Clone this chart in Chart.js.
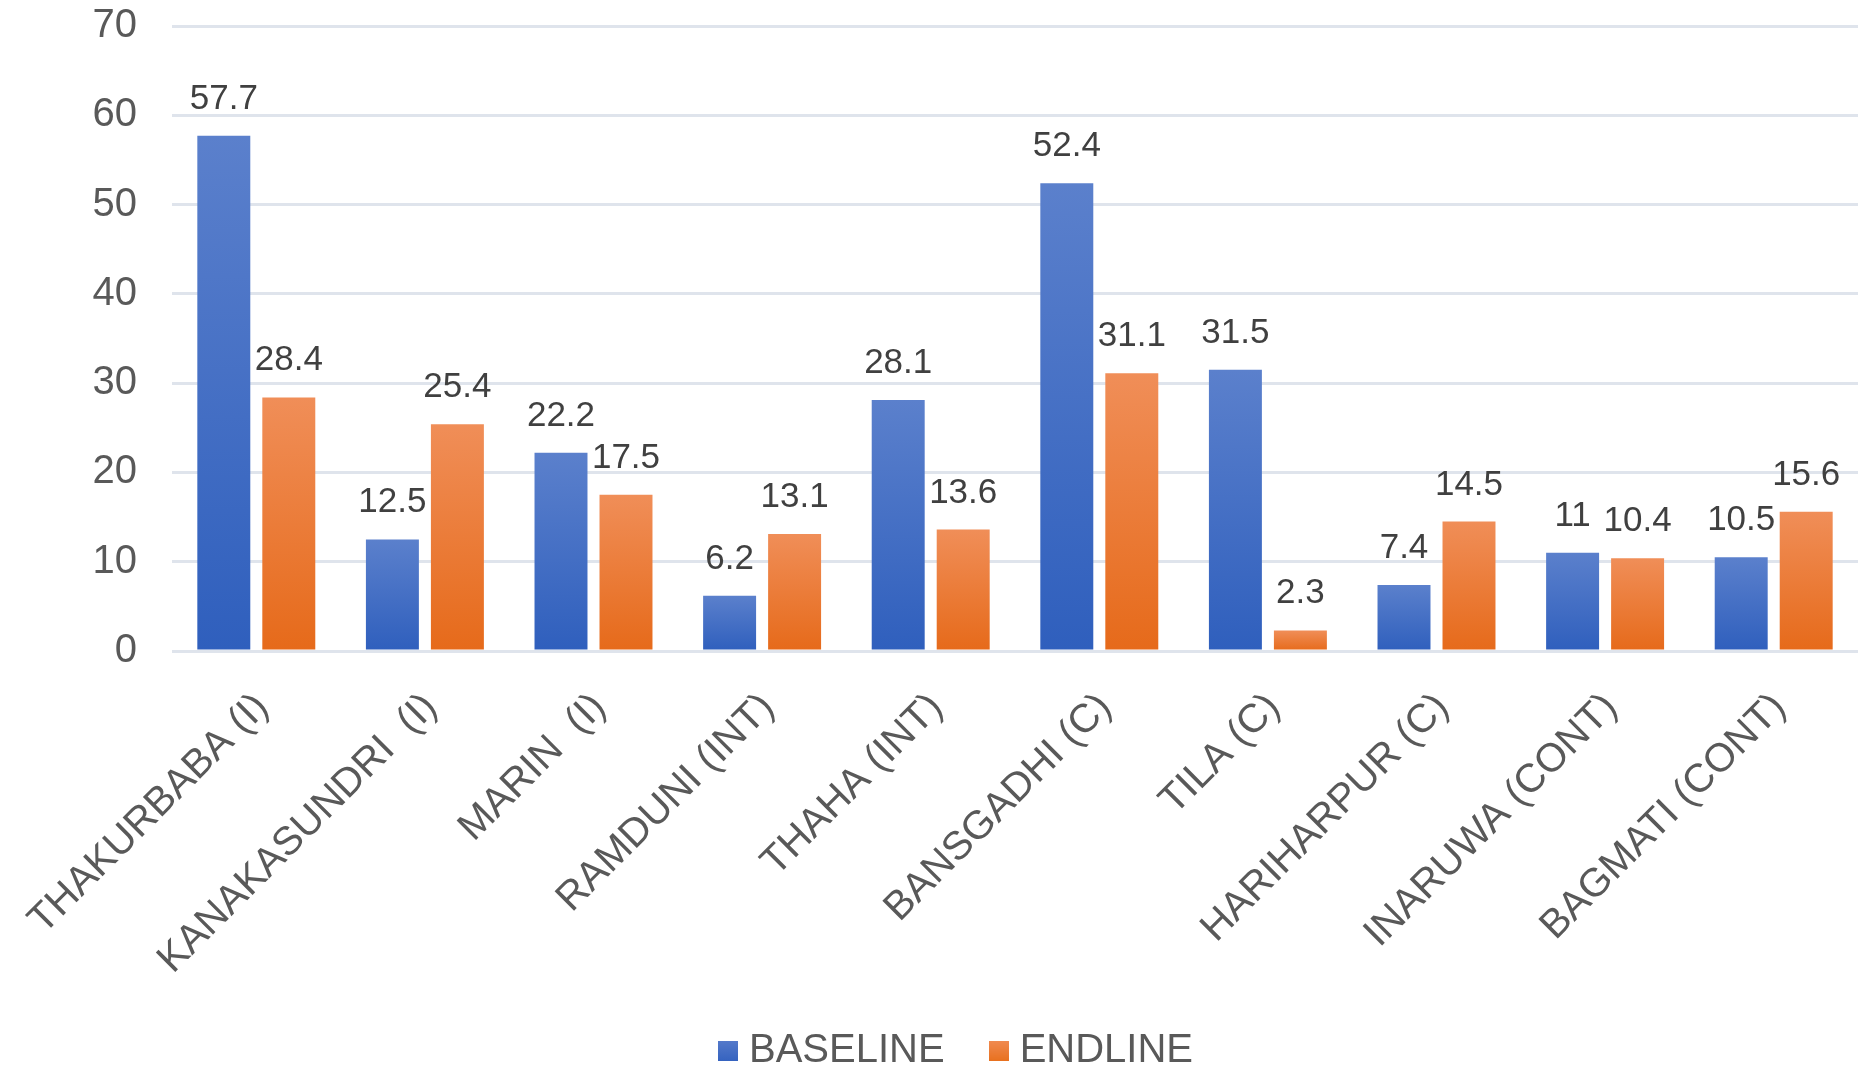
<!DOCTYPE html>
<html>
<head>
<meta charset="utf-8">
<script src="https://cdn.jsdelivr.net/npm/chart.js@4.4.1/dist/chart.umd.min.js"></script>
<style>
  html, body { margin: 0; padding: 0; background: #ffffff; }
  #wrap { width: 1858px; height: 1068px; position: relative; }
  canvas { display: block; }
</style>
</head>
<body>
<div id="wrap"><canvas id="c" width="1858" height="1068"></canvas></div>
<script>
const categories = [
  "THAKURBABA (I)", "KANAKASUNDRI  (I)", "MARIN  (I)", "RAMDUNI (INT)", "THAHA (INT)",
  "BANSGADHI (C)", "TILA (C)", "HARIHARPUR (C)", "INARUWA (CONT)", "BAGMATI (CONT)"
];
const baseline = [57.7, 12.5, 22.2, 6.2, 28.1, 52.4, 31.5, 7.4, 11, 10.5];
const endline  = [28.4, 25.4, 17.5, 13.1, 13.6, 31.1, 2.3, 14.5, 10.4, 15.6];
const seriesNames = ["BASELINE", "ENDLINE"];
const yTicks = [0, 10, 20, 30, 40, 50, 60, 70];

const FONT = "'Liberation Sans', Arial, sans-serif";
const TEXT = "#595959";

function barGradient(top, bottom) {
  return function (ctx) {
    const chart = ctx.chart;
    if (!chart.chartArea || ctx.type !== 'data') return bottom;
    const ys = chart.scales.y;
    const yTop = ys.getPixelForValue(ctx.raw);
    const yBase = ys.getPixelForValue(0);
    if (!isFinite(yTop) || !isFinite(yBase) || yTop === yBase) return bottom;
    const g = chart.ctx.createLinearGradient(0, yTop, 0, yBase);
    g.addColorStop(0, top);
    g.addColorStop(1, bottom);
    return g;
  };
}

function swatch(top, bottom) {
  const cv = document.createElement('canvas');
  cv.width = 20; cv.height = 20;
  const c = cv.getContext('2d');
  const g = c.createLinearGradient(0, 0, 0, 20);
  g.addColorStop(0, top);
  g.addColorStop(1, bottom);
  c.fillStyle = g;
  c.fillRect(0, 0, 20, 20);
  return cv;
}

const dataLabels = {
  id: 'dataLabels',
  afterDatasetsDraw(chart) {
    const c = chart.ctx;
    c.save();
    c.font = "35px " + FONT;
    c.fillStyle = "#404040";
    c.textAlign = 'center';
    c.textBaseline = 'alphabetic';
    chart.data.datasets.forEach((ds, di) => {
      const meta = chart.getDatasetMeta(di);
      meta.data.forEach((el, i) => {
        c.fillText(String(ds.data[i]), el.x, el.y - 27);
      });
    });
    c.restore();
  }
};

const layoutTweak = {
  id: 'layoutTweak',
  afterLayout(chart) {
    const lg = chart.legend;
    if (lg) {
      const dx = 31, dy = 13;
      lg.left += dx; lg.right += dx;
      lg.top += dy; lg.bottom += dy;
    }
    // let the rotated category labels overflow into the legend band without clipping
    if (chart.scales.x) chart.scales.x.bottom += 40;
  }
};

const swatches = [swatch('#5479ca', '#3563c0'), swatch('#f08a50', '#e8711f')];

new Chart(document.getElementById('c'), {
  type: 'bar',
  data: {
    labels: categories,
    datasets: [
      {
        label: seriesNames[0],
        data: baseline,
        backgroundColor: barGradient('#5b80cc', '#2f5fbd'),
        borderWidth: 0,
        categoryPercentage: 0.771,
        barPercentage: 0.815
      },
      {
        label: seriesNames[1],
        data: endline,
        backgroundColor: barGradient('#f08e58', '#e66a1a'),
        borderWidth: 0,
        categoryPercentage: 0.771,
        barPercentage: 0.815
      }
    ]
  },
  options: {
    responsive: false,
    animation: false,
    layout: { padding: { top: 26, right: 0, bottom: 0, left: 0 } },
    plugins: {
      legend: {
        position: 'bottom',
        labels: {
          font: { family: FONT, size: 40 },
          color: TEXT,
          usePointStyle: true,
          boxWidth: 2,
          boxHeight: 20,
          padding: 53,
          generateLabels(chart) {
            return chart.data.datasets.map((ds, i) => ({
              text: ds.label,
              fillStyle: 'transparent',
              strokeStyle: 'transparent',
              lineWidth: 0,
              pointStyle: swatches[i],
              hidden: false,
              datasetIndex: i,
              fontColor: TEXT
            }));
          }
        }
      },
      tooltip: { enabled: false }
    },
    scales: {
      x: {
        grid: { display: false, drawTicks: false },
        border: { display: false },
        ticks: {
          font: { family: FONT, size: 40 },
          color: TEXT,
          maxRotation: 45,
          minRotation: 45,
          padding: 33,
          labelOffset: 6,
          autoSkip: false
        },
        afterFit(scale) {
          scale.height = 314;
          scale.paddingLeft = 0; scale.paddingRight = 0;
        }
      },
      y: {
        min: 0,
        max: 70,
        grid: { color: '#dfe4ec', lineWidth: 3, drawTicks: false },
        border: { display: false },
        afterBuildTicks(scale) { scale.ticks = yTicks.map(v => ({ value: v })); },
        ticks: {
          font: { family: FONT, size: 40 },
          color: TEXT,
          padding: 35
        },
        afterFit(scale) {
          scale.width = 172;
          scale.paddingTop = 0; scale.paddingBottom = 0;
        }
      }
    }
  },
  plugins: [dataLabels, layoutTweak]
});
</script>
</body>
</html>
